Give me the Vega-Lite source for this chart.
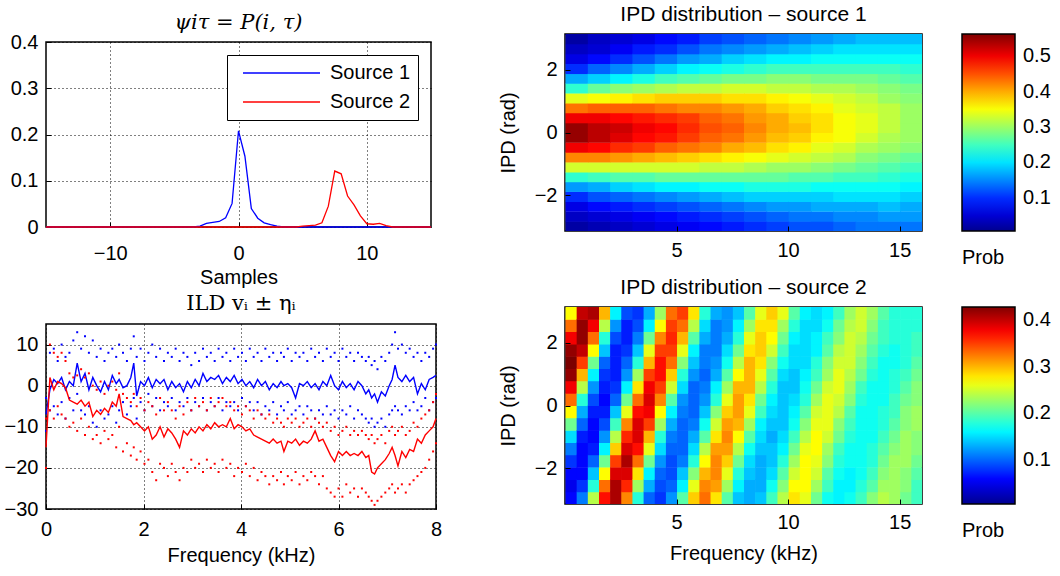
{
"$schema": "https://vega.github.io/schema/vega-lite/v6.json",
"background": "white",
"padding": {"left": 3, "top": 3, "right": 0, "bottom": 0},
"config": {
  "font": "Liberation Sans",
  "view": {"stroke": "black", "strokeWidth": 1.5},
  "axis": {"labelFontSize": 20, "labelColor": "black", "titleFontSize": 20, "titleFontWeight": "normal", "titleColor": "black", "domain": false, "tickColor": "black", "tickSize": -5, "tickWidth": 1, "labelPadding": 13, "titlePadding": 4, "labelFlush": false, "gridColor": "black", "gridDash": [1, 3], "gridOpacity": 1, "gridWidth": 1},
  "legend": {"labelColor": "black", "titleColor": "black", "labelFontSize": 20, "titleFontSize": 20, "titleFontWeight": "normal"},
  "title": {"fontWeight": "normal", "color": "black"}
},
"align": "none",
"resolve": {"scale": {"color": "independent"}, "legend": {"color": "independent"}},
"spacing": 54,
"datasets": {
"psi": [
{"t":-15,"p":0,"s":"Source 1"},{"t":-3.5,"p":0,"s":"Source 1"},{"t":-3,"p":0.002,"s":"Source 1"},{"t":-2.5,"p":0.008,"s":"Source 1"},{"t":-2,"p":0.01,"s":"Source 1"},{"t":-1.5,"p":0.012,"s":"Source 1"},{"t":-1,"p":0.02,"s":"Source 1"},{"t":-0.5,"p":0.051,"s":"Source 1"},{"t":0,"p":0.208,"s":"Source 1"},{"t":0.5,"p":0.153,"s":"Source 1"},{"t":1,"p":0.04,"s":"Source 1"},{"t":1.5,"p":0.019,"s":"Source 1"},{"t":2,"p":0.009,"s":"Source 1"},{"t":2.5,"p":0.005,"s":"Source 1"},{"t":3,"p":0.002,"s":"Source 1"},{"t":3.5,"p":0,"s":"Source 1"},{"t":15,"p":0,"s":"Source 1"},
{"t":-15,"p":0,"s":"Source 2"},{"t":4.5,"p":0,"s":"Source 2"},{"t":5,"p":0.002,"s":"Source 2"},{"t":5.5,"p":0.003,"s":"Source 2"},{"t":6,"p":0.004,"s":"Source 2"},{"t":6.5,"p":0.009,"s":"Source 2"},{"t":7,"p":0.045,"s":"Source 2"},{"t":7.5,"p":0.121,"s":"Source 2"},{"t":8,"p":0.115,"s":"Source 2"},{"t":8.5,"p":0.067,"s":"Source 2"},{"t":9,"p":0.048,"s":"Source 2"},{"t":9.5,"p":0.024,"s":"Source 2"},{"t":10,"p":0.007,"s":"Source 2"},{"t":10.5,"p":0.006,"s":"Source 2"},{"t":11,"p":0.008,"s":"Source 2"},{"t":11.5,"p":0.003,"s":"Source 2"},{"t":12,"p":0,"s":"Source 2"},{"t":15,"p":0,"s":"Source 2"}
],
"ild": [
{"f":0,"b":-7,"bu":-3,"bl":-11,"r":-15,"ru":-8,"rl":-20},
{"f":0.08,"b":-1,"bu":8,"bl":-6,"r":2,"ru":10,"rl":-6},
{"f":0.16,"b":1.5,"bu":9,"bl":-5,"r":-1,"ru":8,"rl":-8},
{"f":0.24,"b":0.5,"bu":6,"bl":-7,"r":1,"ru":7,"rl":-5},
{"f":0.32,"b":2,"bu":10,"bl":-4,"r":0.5,"ru":8,"rl":-7},
{"f":0.4,"b":-1,"bu":7,"bl":-8,"r":-0.5,"ru":6,"rl":-8},
{"f":0.48,"b":1,"bu":8,"bl":-3,"r":-3.5,"ru":3,"rl":-10},
{"f":0.56,"b":0,"bu":11,"bl":-6,"r":-4,"ru":2,"rl":-9},
{"f":0.64,"b":5.5,"bu":13,"bl":-2,"r":-4.5,"ru":2.5,"rl":-11},
{"f":0.72,"b":1,"bu":9,"bl":-6,"r":-3.5,"ru":4,"rl":-8},
{"f":0.8,"b":3,"bu":12,"bl":-7,"r":-5,"ru":2,"rl":-12},
{"f":0.88,"b":-1,"bu":8,"bl":-5,"r":-4,"ru":3,"rl":-10},
{"f":0.96,"b":2,"bu":11,"bl":-9,"r":-7.5,"ru":0,"rl":-13},
{"f":1.04,"b":0,"bu":7,"bl":-10,"r":-6,"ru":-1,"rl":-12},
{"f":1.12,"b":-1.5,"bu":9,"bl":-6,"r":-7,"ru":1,"rl":-14},
{"f":1.2,"b":1,"bu":6,"bl":-8,"r":-5.5,"ru":-2,"rl":-11},
{"f":1.28,"b":-1,"bu":8,"bl":-7,"r":-6.5,"ru":0,"rl":-13},
{"f":1.36,"b":2.5,"bu":9,"bl":-5,"r":-4,"ru":1,"rl":-12},
{"f":1.44,"b":0.5,"bu":7,"bl":-9,"r":-5,"ru":-1,"rl":-15},
{"f":1.5,"b":1.5,"bu":10,"bl":-6,"r":-2,"ru":3,"rl":-10},
{"f":1.58,"b":-0.5,"bu":8,"bl":-4,"r":-7.5,"ru":-2,"rl":-16},
{"f":1.66,"b":0,"bu":6,"bl":-7,"r":-8,"ru":-3,"rl":-14},
{"f":1.74,"b":2,"bu":9,"bl":-5,"r":-8.5,"ru":-4,"rl":-17},
{"f":1.8,"b":5.5,"bu":12,"bl":-3,"r":-9.5,"ru":-2,"rl":-15},
{"f":1.86,"b":-2.5,"bu":7,"bl":-8,"r":-9,"ru":-5,"rl":-18},
{"f":1.94,"b":1,"bu":9,"bl":-4,"r":-10,"ru":-3,"rl":-16},
{"f":2.02,"b":0,"bu":6,"bl":-6,"r":-11,"ru":-6,"rl":-19},
{"f":2.1,"b":2,"bu":8,"bl":-2,"r":-10,"ru":-4,"rl":-18},
{"f":2.18,"b":-0.5,"bu":10,"bl":-5,"r":-13,"ru":-5,"rl":-21},
{"f":2.26,"b":1.5,"bu":7,"bl":-3,"r":-12,"ru":-7,"rl":-23},
{"f":2.34,"b":0.5,"bu":9,"bl":-6,"r":-10,"ru":-3,"rl":-19},
{"f":2.42,"b":1.5,"bu":6,"bl":-4,"r":-12.5,"ru":-6,"rl":-20},
{"f":2.5,"b":-1,"bu":8,"bl":-5,"r":-10.5,"ru":-4,"rl":-22},
{"f":2.58,"b":1,"bu":7,"bl":-3,"r":-11.5,"ru":-6,"rl":-19},
{"f":2.66,"b":-0.5,"bu":9,"bl":-6,"r":-13,"ru":-8,"rl":-21},
{"f":2.74,"b":0.5,"bu":6,"bl":-4,"r":-15,"ru":-5,"rl":-23},
{"f":2.82,"b":-1.5,"bu":8,"bl":-5,"r":-11,"ru":-7,"rl":-20},
{"f":2.9,"b":1,"bu":7,"bl":-3,"r":-12,"ru":-4,"rl":-21},
{"f":2.98,"b":-0.5,"bu":5,"bl":-6,"r":-10.5,"ru":-6,"rl":-18},
{"f":3.06,"b":1.5,"bu":8,"bl":-4,"r":-11.5,"ru":-3,"rl":-20},
{"f":3.14,"b":0,"bu":6,"bl":-5,"r":-10,"ru":-5,"rl":-19},
{"f":3.22,"b":3,"bu":9,"bl":-3,"r":-11,"ru":-4,"rl":-21},
{"f":3.3,"b":1,"bu":7,"bl":-6,"r":-9.5,"ru":-6,"rl":-18},
{"f":3.38,"b":2,"bu":8,"bl":-4,"r":-10.5,"ru":-3,"rl":-20},
{"f":3.46,"b":1.5,"bu":6,"bl":-5,"r":-9,"ru":-5,"rl":-19},
{"f":3.54,"b":2.5,"bu":9,"bl":-3,"r":-10,"ru":-4,"rl":-21},
{"f":3.62,"b":0.5,"bu":7,"bl":-6,"r":-9.5,"ru":-3,"rl":-18},
{"f":3.7,"b":2,"bu":8,"bl":-4,"r":-10,"ru":-5,"rl":-20},
{"f":3.78,"b":1,"bu":6,"bl":-5,"r":-8,"ru":-4,"rl":-19},
{"f":3.86,"b":2.5,"bu":9,"bl":-4,"r":-10.5,"ru":-6,"rl":-22},
{"f":3.94,"b":0.5,"bu":7,"bl":-6,"r":-9.5,"ru":-5,"rl":-20},
{"f":4.02,"b":1.5,"bu":8,"bl":-3,"r":-10,"ru":-7,"rl":-21},
{"f":4.1,"b":0,"bu":6,"bl":-5,"r":-11,"ru":-5,"rl":-19},
{"f":4.18,"b":1,"bu":9,"bl":-4,"r":-10.5,"ru":-6,"rl":-22},
{"f":4.26,"b":-0.5,"bu":7,"bl":-6,"r":-12,"ru":-8,"rl":-20},
{"f":4.34,"b":1.5,"bu":8,"bl":-4,"r":-12.5,"ru":-6,"rl":-23},
{"f":4.42,"b":0,"bu":6,"bl":-7,"r":-13,"ru":-7,"rl":-21},
{"f":4.5,"b":1,"bu":9,"bl":-5,"r":-13.5,"ru":-8,"rl":-22},
{"f":4.58,"b":-1,"bu":7,"bl":-6,"r":-14,"ru":-7,"rl":-24},
{"f":4.66,"b":0.5,"bu":8,"bl":-4,"r":-13,"ru":-9,"rl":-22},
{"f":4.74,"b":-0.5,"bu":6,"bl":-7,"r":-14,"ru":-8,"rl":-23},
{"f":4.82,"b":1,"bu":8,"bl":-5,"r":-13.5,"ru":-9,"rl":-21},
{"f":4.88,"b":0,"bu":7,"bl":-6,"r":-16,"ru":-10,"rl":-24},
{"f":4.96,"b":0.5,"bu":9,"bl":-4,"r":-13.5,"ru":-8,"rl":-22},
{"f":5.04,"b":-0.5,"bu":6,"bl":-7,"r":-14,"ru":-9,"rl":-23},
{"f":5.12,"b":-3,"bu":8,"bl":-6,"r":-13,"ru":-8,"rl":-21},
{"f":5.2,"b":0.5,"bu":7,"bl":-5,"r":-14.5,"ru":-10,"rl":-24},
{"f":5.28,"b":0,"bu":8,"bl":-7,"r":-13.5,"ru":-9,"rl":-22},
{"f":5.36,"b":1,"bu":6,"bl":-5,"r":-14,"ru":-8,"rl":-23},
{"f":5.44,"b":-0.5,"bu":9,"bl":-6,"r":-13,"ru":-10,"rl":-21},
{"f":5.52,"b":0.5,"bu":7,"bl":-8,"r":-11,"ru":-8,"rl":-22},
{"f":5.6,"b":-1,"bu":8,"bl":-6,"r":-13.5,"ru":-9,"rl":-24},
{"f":5.68,"b":1,"bu":6,"bl":-7,"r":-13,"ru":-10,"rl":-22},
{"f":5.76,"b":0,"bu":9,"bl":-5,"r":-15,"ru":-9,"rl":-25},
{"f":5.84,"b":2.5,"bu":7,"bl":-7,"r":-17,"ru":-11,"rl":-26},
{"f":5.92,"b":0,"bu":8,"bl":-6,"r":-18.5,"ru":-10,"rl":-27},
{"f":6,"b":-1,"bu":6,"bl":-8,"r":-16,"ru":-12,"rl":-25},
{"f":6.08,"b":1,"bu":9,"bl":-6,"r":-17,"ru":-11,"rl":-27},
{"f":6.16,"b":-0.5,"bu":7,"bl":-7,"r":-16,"ru":-10,"rl":-24},
{"f":6.24,"b":0.5,"bu":8,"bl":-5,"r":-17,"ru":-12,"rl":-26},
{"f":6.32,"b":-1,"bu":6,"bl":-8,"r":-16.5,"ru":-11,"rl":-25},
{"f":6.4,"b":1,"bu":8,"bl":-6,"r":-17,"ru":-12,"rl":-27},
{"f":6.48,"b":0,"bu":7,"bl":-7,"r":-16,"ru":-11,"rl":-25},
{"f":6.56,"b":-2,"bu":6,"bl":-8,"r":-17.5,"ru":-12,"rl":-26},
{"f":6.62,"b":-1,"bu":7,"bl":-9,"r":-17,"ru":-13,"rl":-27},
{"f":6.68,"b":-3,"bu":5,"bl":-8,"r":-21,"ru":-12,"rl":-28},
{"f":6.74,"b":-2,"bu":6,"bl":-10,"r":-21.5,"ru":-14,"rl":-29},
{"f":6.8,"b":-4,"bu":4,"bl":-9,"r":-20,"ru":-13,"rl":-28},
{"f":6.88,"b":-1.5,"bu":7,"bl":-8,"r":-19,"ru":-12,"rl":-27},
{"f":6.96,"b":-2.5,"bu":6,"bl":-10,"r":-18,"ru":-14,"rl":-26},
{"f":7.04,"b":0,"bu":8,"bl":-7,"r":-16.5,"ru":-11,"rl":-25},
{"f":7.1,"b":1.5,"bu":10,"bl":-6,"r":-15,"ru":-10,"rl":-24},
{"f":7.16,"b":5,"bu":13,"bl":-5,"r":-17,"ru":-12,"rl":-26},
{"f":7.22,"b":2,"bu":9,"bl":-6,"r":-19.5,"ru":-11,"rl":-25},
{"f":7.3,"b":1,"bu":10,"bl":-7,"r":-16,"ru":-10,"rl":-24},
{"f":7.38,"b":2.5,"bu":8,"bl":-5,"r":-17.5,"ru":-12,"rl":-26},
{"f":7.46,"b":1,"bu":9,"bl":-6,"r":-15.5,"ru":-11,"rl":-24},
{"f":7.54,"b":2,"bu":7,"bl":-4,"r":-16,"ru":-9,"rl":-23},
{"f":7.62,"b":-2,"bu":8,"bl":-6,"r":-13,"ru":-10,"rl":-22},
{"f":7.7,"b":0.5,"bu":6,"bl":-5,"r":-14,"ru":-8,"rl":-21},
{"f":7.78,"b":-1,"bu":8,"bl":-3,"r":-12,"ru":-7,"rl":-20},
{"f":7.86,"b":1.5,"bu":7,"bl":-6,"r":-11,"ru":-6,"rl":-18},
{"f":7.94,"b":2,"bu":9,"bl":-4,"r":-10,"ru":-4,"rl":-16},
{"f":8,"b":2.5,"bu":10,"bl":-3,"r":-8,"ru":-2,"rl":-14}
],
"s1": [
{"f":0,"p":-3.14,"v":0.02},{"f":0,"p":-2.83,"v":0.04},{"f":0,"p":-2.51,"v":0.06},{"f":0,"p":-2.2,"v":0.10},{"f":0,"p":-1.88,"v":0.16},{"f":0,"p":-1.57,"v":0.24},{"f":0,"p":-1.26,"v":0.33},{"f":0,"p":-0.94,"v":0.42},{"f":0,"p":-0.63,"v":0.50},{"f":0,"p":-0.31,"v":0.55},{"f":0,"p":0,"v":0.55},{"f":0,"p":0.31,"v":0.50},{"f":0,"p":0.63,"v":0.43},{"f":0,"p":0.94,"v":0.34},{"f":0,"p":1.26,"v":0.24},{"f":0,"p":1.57,"v":0.17},{"f":0,"p":1.88,"v":0.10},{"f":0,"p":2.2,"v":0.06},{"f":0,"p":2.51,"v":0.04},{"f":0,"p":2.83,"v":0.02},
{"f":1,"p":-3.14,"v":0.03},{"f":1,"p":-2.83,"v":0.05},{"f":1,"p":-2.51,"v":0.08},{"f":1,"p":-2.2,"v":0.12},{"f":1,"p":-1.88,"v":0.17},{"f":1,"p":-1.57,"v":0.25},{"f":1,"p":-1.26,"v":0.33},{"f":1,"p":-0.94,"v":0.42},{"f":1,"p":-0.63,"v":0.49},{"f":1,"p":-0.31,"v":0.53},{"f":1,"p":0,"v":0.53},{"f":1,"p":0.31,"v":0.50},{"f":1,"p":0.63,"v":0.44},{"f":1,"p":0.94,"v":0.35},{"f":1,"p":1.26,"v":0.27},{"f":1,"p":1.57,"v":0.19},{"f":1,"p":1.88,"v":0.13},{"f":1,"p":2.2,"v":0.08},{"f":1,"p":2.51,"v":0.05},{"f":1,"p":2.83,"v":0.04},
{"f":2,"p":-3.14,"v":0.04},{"f":2,"p":-2.83,"v":0.06},{"f":2,"p":-2.51,"v":0.09},{"f":2,"p":-2.2,"v":0.13},{"f":2,"p":-1.88,"v":0.19},{"f":2,"p":-1.57,"v":0.26},{"f":2,"p":-1.26,"v":0.33},{"f":2,"p":-0.94,"v":0.41},{"f":2,"p":-0.63,"v":0.47},{"f":2,"p":-0.31,"v":0.51},{"f":2,"p":0,"v":0.52},{"f":2,"p":0.31,"v":0.49},{"f":2,"p":0.63,"v":0.44},{"f":2,"p":0.94,"v":0.36},{"f":2,"p":1.26,"v":0.29},{"f":2,"p":1.57,"v":0.21},{"f":2,"p":1.88,"v":0.15},{"f":2,"p":2.2,"v":0.10},{"f":2,"p":2.51,"v":0.07},{"f":2,"p":2.83,"v":0.05},
{"f":3,"p":-3.14,"v":0.05},{"f":3,"p":-2.83,"v":0.07},{"f":3,"p":-2.51,"v":0.10},{"f":3,"p":-2.2,"v":0.14},{"f":3,"p":-1.88,"v":0.20},{"f":3,"p":-1.57,"v":0.26},{"f":3,"p":-1.26,"v":0.33},{"f":3,"p":-0.94,"v":0.40},{"f":3,"p":-0.63,"v":0.46},{"f":3,"p":-0.31,"v":0.49},{"f":3,"p":0,"v":0.50},{"f":3,"p":0.31,"v":0.48},{"f":3,"p":0.63,"v":0.44},{"f":3,"p":0.94,"v":0.37},{"f":3,"p":1.26,"v":0.30},{"f":3,"p":1.57,"v":0.23},{"f":3,"p":1.88,"v":0.17},{"f":3,"p":2.2,"v":0.12},{"f":3,"p":2.51,"v":0.09},{"f":3,"p":2.83,"v":0.06},
{"f":4,"p":-3.14,"v":0.06},{"f":4,"p":-2.83,"v":0.08},{"f":4,"p":-2.51,"v":0.11},{"f":4,"p":-2.2,"v":0.15},{"f":4,"p":-1.88,"v":0.21},{"f":4,"p":-1.57,"v":0.27},{"f":4,"p":-1.26,"v":0.33},{"f":4,"p":-0.94,"v":0.39},{"f":4,"p":-0.63,"v":0.44},{"f":4,"p":-0.31,"v":0.48},{"f":4,"p":0,"v":0.49},{"f":4,"p":0.31,"v":0.47},{"f":4,"p":0.63,"v":0.43},{"f":4,"p":0.94,"v":0.38},{"f":4,"p":1.26,"v":0.31},{"f":4,"p":1.57,"v":0.25},{"f":4,"p":1.88,"v":0.19},{"f":4,"p":2.2,"v":0.14},{"f":4,"p":2.51,"v":0.10},{"f":4,"p":2.83,"v":0.08},
{"f":5,"p":-3.14,"v":0.07},{"f":5,"p":-2.83,"v":0.09},{"f":5,"p":-2.51,"v":0.12},{"f":5,"p":-2.2,"v":0.16},{"f":5,"p":-1.88,"v":0.21},{"f":5,"p":-1.57,"v":0.27},{"f":5,"p":-1.26,"v":0.33},{"f":5,"p":-0.94,"v":0.38},{"f":5,"p":-0.63,"v":0.43},{"f":5,"p":-0.31,"v":0.46},{"f":5,"p":0,"v":0.47},{"f":5,"p":0.31,"v":0.46},{"f":5,"p":0.63,"v":0.42},{"f":5,"p":0.94,"v":0.38},{"f":5,"p":1.26,"v":0.32},{"f":5,"p":1.57,"v":0.26},{"f":5,"p":1.88,"v":0.21},{"f":5,"p":2.2,"v":0.16},{"f":5,"p":2.51,"v":0.12},{"f":5,"p":2.83,"v":0.09},
{"f":6,"p":-3.14,"v":0.08},{"f":6,"p":-2.83,"v":0.10},{"f":6,"p":-2.51,"v":0.13},{"f":6,"p":-2.2,"v":0.17},{"f":6,"p":-1.88,"v":0.22},{"f":6,"p":-1.57,"v":0.27},{"f":6,"p":-1.26,"v":0.32},{"f":6,"p":-0.94,"v":0.37},{"f":6,"p":-0.63,"v":0.42},{"f":6,"p":-0.31,"v":0.44},{"f":6,"p":0,"v":0.45},{"f":6,"p":0.31,"v":0.44},{"f":6,"p":0.63,"v":0.42},{"f":6,"p":0.94,"v":0.38},{"f":6,"p":1.26,"v":0.32},{"f":6,"p":1.57,"v":0.27},{"f":6,"p":1.88,"v":0.22},{"f":6,"p":2.2,"v":0.17},{"f":6,"p":2.51,"v":0.14},{"f":6,"p":2.83,"v":0.11},
{"f":7,"p":-3.14,"v":0.09},{"f":7,"p":-2.83,"v":0.11},{"f":7,"p":-2.51,"v":0.14},{"f":7,"p":-2.2,"v":0.18},{"f":7,"p":-1.88,"v":0.22},{"f":7,"p":-1.57,"v":0.27},{"f":7,"p":-1.26,"v":0.32},{"f":7,"p":-0.94,"v":0.36},{"f":7,"p":-0.63,"v":0.40},{"f":7,"p":-0.31,"v":0.43},{"f":7,"p":0,"v":0.44},{"f":7,"p":0.31,"v":0.43},{"f":7,"p":0.63,"v":0.41},{"f":7,"p":0.94,"v":0.37},{"f":7,"p":1.26,"v":0.33},{"f":7,"p":1.57,"v":0.28},{"f":7,"p":1.88,"v":0.23},{"f":7,"p":2.2,"v":0.19},{"f":7,"p":2.51,"v":0.15},{"f":7,"p":2.83,"v":0.12},
{"f":8,"p":-3.14,"v":0.10},{"f":8,"p":-2.83,"v":0.12},{"f":8,"p":-2.51,"v":0.15},{"f":8,"p":-2.2,"v":0.19},{"f":8,"p":-1.88,"v":0.23},{"f":8,"p":-1.57,"v":0.27},{"f":8,"p":-1.26,"v":0.31},{"f":8,"p":-0.94,"v":0.35},{"f":8,"p":-0.63,"v":0.39},{"f":8,"p":-0.31,"v":0.41},{"f":8,"p":0,"v":0.42},{"f":8,"p":0.31,"v":0.41},{"f":8,"p":0.63,"v":0.40},{"f":8,"p":0.94,"v":0.37},{"f":8,"p":1.26,"v":0.33},{"f":8,"p":1.57,"v":0.28},{"f":8,"p":1.88,"v":0.24},{"f":8,"p":2.2,"v":0.20},{"f":8,"p":2.51,"v":0.16},{"f":8,"p":2.83,"v":0.13},
{"f":9,"p":-3.14,"v":0.11},{"f":9,"p":-2.83,"v":0.13},{"f":9,"p":-2.51,"v":0.16},{"f":9,"p":-2.2,"v":0.19},{"f":9,"p":-1.88,"v":0.23},{"f":9,"p":-1.57,"v":0.27},{"f":9,"p":-1.26,"v":0.30},{"f":9,"p":-0.94,"v":0.34},{"f":9,"p":-0.63,"v":0.37},{"f":9,"p":-0.31,"v":0.39},{"f":9,"p":0,"v":0.40},{"f":9,"p":0.31,"v":0.40},{"f":9,"p":0.63,"v":0.38},{"f":9,"p":0.94,"v":0.36},{"f":9,"p":1.26,"v":0.32},{"f":9,"p":1.57,"v":0.29},{"f":9,"p":1.88,"v":0.25},{"f":9,"p":2.2,"v":0.21},{"f":9,"p":2.51,"v":0.17},{"f":9,"p":2.83,"v":0.14},
{"f":10,"p":-3.14,"v":0.12},{"f":10,"p":-2.83,"v":0.14},{"f":10,"p":-2.51,"v":0.16},{"f":10,"p":-2.2,"v":0.19},{"f":10,"p":-1.88,"v":0.23},{"f":10,"p":-1.57,"v":0.26},{"f":10,"p":-1.26,"v":0.30},{"f":10,"p":-0.94,"v":0.33},{"f":10,"p":-0.63,"v":0.36},{"f":10,"p":-0.31,"v":0.38},{"f":10,"p":0,"v":0.39},{"f":10,"p":0.31,"v":0.38},{"f":10,"p":0.63,"v":0.37},{"f":10,"p":0.94,"v":0.35},{"f":10,"p":1.26,"v":0.32},{"f":10,"p":1.57,"v":0.29},{"f":10,"p":1.88,"v":0.25},{"f":10,"p":2.2,"v":0.21},{"f":10,"p":2.51,"v":0.18},{"f":10,"p":2.83,"v":0.15},
{"f":11,"p":-3.14,"v":0.12},{"f":11,"p":-2.83,"v":0.14},{"f":11,"p":-2.51,"v":0.17},{"f":11,"p":-2.2,"v":0.19},{"f":11,"p":-1.88,"v":0.22},{"f":11,"p":-1.57,"v":0.26},{"f":11,"p":-1.26,"v":0.29},{"f":11,"p":-0.94,"v":0.32},{"f":11,"p":-0.63,"v":0.34},{"f":11,"p":-0.31,"v":0.36},{"f":11,"p":0,"v":0.37},{"f":11,"p":0.31,"v":0.37},{"f":11,"p":0.63,"v":0.36},{"f":11,"p":0.94,"v":0.34},{"f":11,"p":1.26,"v":0.31},{"f":11,"p":1.57,"v":0.28},{"f":11,"p":1.88,"v":0.25},{"f":11,"p":2.2,"v":0.22},{"f":11,"p":2.51,"v":0.19},{"f":11,"p":2.83,"v":0.16},
{"f":12,"p":-3.14,"v":0.13},{"f":12,"p":-2.83,"v":0.15},{"f":12,"p":-2.51,"v":0.17},{"f":12,"p":-2.2,"v":0.20},{"f":12,"p":-1.88,"v":0.22},{"f":12,"p":-1.57,"v":0.25},{"f":12,"p":-1.26,"v":0.28},{"f":12,"p":-0.94,"v":0.31},{"f":12,"p":-0.63,"v":0.33},{"f":12,"p":-0.31,"v":0.35},{"f":12,"p":0,"v":0.35},{"f":12,"p":0.31,"v":0.35},{"f":12,"p":0.63,"v":0.34},{"f":12,"p":0.94,"v":0.33},{"f":12,"p":1.26,"v":0.31},{"f":12,"p":1.57,"v":0.28},{"f":12,"p":1.88,"v":0.25},{"f":12,"p":2.2,"v":0.22},{"f":12,"p":2.51,"v":0.20},{"f":12,"p":2.83,"v":0.17},
{"f":13,"p":-3.14,"v":0.14},{"f":13,"p":-2.83,"v":0.15},{"f":13,"p":-2.51,"v":0.17},{"f":13,"p":-2.2,"v":0.20},{"f":13,"p":-1.88,"v":0.22},{"f":13,"p":-1.57,"v":0.25},{"f":13,"p":-1.26,"v":0.27},{"f":13,"p":-0.94,"v":0.29},{"f":13,"p":-0.63,"v":0.31},{"f":13,"p":-0.31,"v":0.33},{"f":13,"p":0,"v":0.34},{"f":13,"p":0.31,"v":0.34},{"f":13,"p":0.63,"v":0.33},{"f":13,"p":0.94,"v":0.32},{"f":13,"p":1.26,"v":0.30},{"f":13,"p":1.57,"v":0.28},{"f":13,"p":1.88,"v":0.25},{"f":13,"p":2.2,"v":0.22},{"f":13,"p":2.51,"v":0.20},{"f":13,"p":2.83,"v":0.18},
{"f":14,"p":-3.14,"v":0.14},{"f":14,"p":-2.83,"v":0.16},{"f":14,"p":-2.51,"v":0.18},{"f":14,"p":-2.2,"v":0.20},{"f":14,"p":-1.88,"v":0.22},{"f":14,"p":-1.57,"v":0.24},{"f":14,"p":-1.26,"v":0.26},{"f":14,"p":-0.94,"v":0.28},{"f":14,"p":-0.63,"v":0.30},{"f":14,"p":-0.31,"v":0.31},{"f":14,"p":0,"v":0.32},{"f":14,"p":0.31,"v":0.32},{"f":14,"p":0.63,"v":0.32},{"f":14,"p":0.94,"v":0.30},{"f":14,"p":1.26,"v":0.29},{"f":14,"p":1.57,"v":0.27},{"f":14,"p":1.88,"v":0.25},{"f":14,"p":2.2,"v":0.22},{"f":14,"p":2.51,"v":0.20},{"f":14,"p":2.83,"v":0.18},
{"f":15,"p":-3.14,"v":0.14},{"f":15,"p":-2.83,"v":0.16},{"f":15,"p":-2.51,"v":0.17},{"f":15,"p":-2.2,"v":0.19},{"f":15,"p":-1.88,"v":0.21},{"f":15,"p":-1.57,"v":0.23},{"f":15,"p":-1.26,"v":0.25},{"f":15,"p":-0.94,"v":0.27},{"f":15,"p":-0.63,"v":0.29},{"f":15,"p":-0.31,"v":0.30},{"f":15,"p":0,"v":0.30},{"f":15,"p":0.31,"v":0.30},{"f":15,"p":0.63,"v":0.30},{"f":15,"p":0.94,"v":0.29},{"f":15,"p":1.26,"v":0.28},{"f":15,"p":1.57,"v":0.26},{"f":15,"p":1.88,"v":0.24},{"f":15,"p":2.2,"v":0.22},{"f":15,"p":2.51,"v":0.20},{"f":15,"p":2.83,"v":0.18}
],
"s2": [
{"f":0,"p":-3.14,"v":0.06},{"f":0,"p":-2.75,"v":0.05},{"f":0,"p":-2.36,"v":0.06},{"f":0,"p":-1.96,"v":0.08},{"f":0,"p":-1.57,"v":0.11},{"f":0,"p":-1.18,"v":0.15},{"f":0,"p":-0.79,"v":0.21},{"f":0,"p":-0.39,"v":0.27},{"f":0,"p":0,"v":0.33},{"f":0,"p":0.39,"v":0.38},{"f":0,"p":0.79,"v":0.42},{"f":0,"p":1.18,"v":0.43},{"f":0,"p":1.57,"v":0.42},{"f":0,"p":1.96,"v":0.38},{"f":0,"p":2.36,"v":0.33},{"f":0,"p":2.75,"v":0.27},
{"f":0.5,"p":-3.14,"v":0.11},{"f":0.5,"p":-2.75,"v":0.08},{"f":0.5,"p":-2.36,"v":0.06},{"f":0.5,"p":-1.96,"v":0.06},{"f":0.5,"p":-1.57,"v":0.06},{"f":0.5,"p":-1.18,"v":0.07},{"f":0.5,"p":-0.79,"v":0.10},{"f":0.5,"p":-0.39,"v":0.13},{"f":0.5,"p":0,"v":0.18},{"f":0.5,"p":0.39,"v":0.24},{"f":0.5,"p":0.79,"v":0.30},{"f":0.5,"p":1.18,"v":0.35},{"f":0.5,"p":1.57,"v":0.40},{"f":0.5,"p":1.96,"v":0.42},{"f":0.5,"p":2.36,"v":0.42},{"f":0.5,"p":2.75,"v":0.40},
{"f":1,"p":-3.14,"v":0.24},{"f":1,"p":-2.75,"v":0.18},{"f":1,"p":-2.36,"v":0.14},{"f":1,"p":-1.96,"v":0.10},{"f":1,"p":-1.57,"v":0.07},{"f":1,"p":-1.18,"v":0.06},{"f":1,"p":-0.79,"v":0.06},{"f":1,"p":-0.39,"v":0.07},{"f":1,"p":0,"v":0.09},{"f":1,"p":0.39,"v":0.12},{"f":1,"p":0.79,"v":0.16},{"f":1,"p":1.18,"v":0.21},{"f":1,"p":1.57,"v":0.27},{"f":1,"p":1.96,"v":0.33},{"f":1,"p":2.36,"v":0.38},{"f":1,"p":2.75,"v":0.41},
{"f":1.5,"p":-3.14,"v":0.37},{"f":1.5,"p":-2.75,"v":0.33},{"f":1.5,"p":-2.36,"v":0.27},{"f":1.5,"p":-1.96,"v":0.21},{"f":1.5,"p":-1.57,"v":0.16},{"f":1.5,"p":-1.18,"v":0.12},{"f":1.5,"p":-0.79,"v":0.09},{"f":1.5,"p":-0.39,"v":0.07},{"f":1.5,"p":0,"v":0.06},{"f":1.5,"p":0.39,"v":0.07},{"f":1.5,"p":0.79,"v":0.08},{"f":1.5,"p":1.18,"v":0.10},{"f":1.5,"p":1.57,"v":0.14},{"f":1.5,"p":1.96,"v":0.18},{"f":1.5,"p":2.36,"v":0.24},{"f":1.5,"p":2.75,"v":0.30},
{"f":2,"p":-3.14,"v":0.41},{"f":2,"p":-2.75,"v":0.41},{"f":2,"p":-2.36,"v":0.39},{"f":2,"p":-1.96,"v":0.35},{"f":2,"p":-1.57,"v":0.29},{"f":2,"p":-1.18,"v":0.24},{"f":2,"p":-0.79,"v":0.19},{"f":2,"p":-0.39,"v":0.14},{"f":2,"p":0,"v":0.10},{"f":2,"p":0.39,"v":0.08},{"f":2,"p":0.79,"v":0.07},{"f":2,"p":1.18,"v":0.07},{"f":2,"p":1.57,"v":0.07},{"f":2,"p":1.96,"v":0.09},{"f":2,"p":2.36,"v":0.12},{"f":2,"p":2.75,"v":0.16},
{"f":2.5,"p":-3.14,"v":0.32},{"f":2.5,"p":-2.75,"v":0.36},{"f":2.5,"p":-2.36,"v":0.39},{"f":2.5,"p":-1.96,"v":0.41},{"f":2.5,"p":-1.57,"v":0.39},{"f":2.5,"p":-1.18,"v":0.36},{"f":2.5,"p":-0.79,"v":0.32},{"f":2.5,"p":-0.39,"v":0.26},{"f":2.5,"p":0,"v":0.21},{"f":2.5,"p":0.39,"v":0.16},{"f":2.5,"p":0.79,"v":0.12},{"f":2.5,"p":1.18,"v":0.10},{"f":2.5,"p":1.57,"v":0.08},{"f":2.5,"p":1.96,"v":0.07},{"f":2.5,"p":2.36,"v":0.07},{"f":2.5,"p":2.75,"v":0.09},
{"f":3,"p":-3.14,"v":0.18},{"f":3,"p":-2.75,"v":0.23},{"f":3,"p":-2.36,"v":0.28},{"f":3,"p":-1.96,"v":0.33},{"f":3,"p":-1.57,"v":0.37},{"f":3,"p":-1.18,"v":0.39},{"f":3,"p":-0.79,"v":0.39},{"f":3,"p":-0.39,"v":0.37},{"f":3,"p":0,"v":0.33},{"f":3,"p":0.39,"v":0.28},{"f":3,"p":0.79,"v":0.23},{"f":3,"p":1.18,"v":0.18},{"f":3,"p":1.57,"v":0.14},{"f":3,"p":1.96,"v":0.11},{"f":3,"p":2.36,"v":0.09},{"f":3,"p":2.75,"v":0.08},
{"f":3.5,"p":-3.14,"v":0.10},{"f":3.5,"p":-2.75,"v":0.13},{"f":3.5,"p":-2.36,"v":0.16},{"f":3.5,"p":-1.96,"v":0.21},{"f":3.5,"p":-1.57,"v":0.26},{"f":3.5,"p":-1.18,"v":0.30},{"f":3.5,"p":-0.79,"v":0.35},{"f":3.5,"p":-0.39,"v":0.38},{"f":3.5,"p":0,"v":0.39},{"f":3.5,"p":0.39,"v":0.38},{"f":3.5,"p":0.79,"v":0.35},{"f":3.5,"p":1.18,"v":0.30},{"f":3.5,"p":1.57,"v":0.26},{"f":3.5,"p":1.96,"v":0.21},{"f":3.5,"p":2.36,"v":0.16},{"f":3.5,"p":2.75,"v":0.13},
{"f":4,"p":-3.14,"v":0.08},{"f":4,"p":-2.75,"v":0.09},{"f":4,"p":-2.36,"v":0.10},{"f":4,"p":-1.96,"v":0.12},{"f":4,"p":-1.57,"v":0.15},{"f":4,"p":-1.18,"v":0.18},{"f":4,"p":-0.79,"v":0.23},{"f":4,"p":-0.39,"v":0.27},{"f":4,"p":0,"v":0.32},{"f":4,"p":0.39,"v":0.35},{"f":4,"p":0.79,"v":0.37},{"f":4,"p":1.18,"v":0.37},{"f":4,"p":1.57,"v":0.35},{"f":4,"p":1.96,"v":0.32},{"f":4,"p":2.36,"v":0.27},{"f":4,"p":2.75,"v":0.23},
{"f":4.5,"p":-3.14,"v":0.12},{"f":4.5,"p":-2.75,"v":0.10},{"f":4.5,"p":-2.36,"v":0.09},{"f":4.5,"p":-1.96,"v":0.09},{"f":4.5,"p":-1.57,"v":0.10},{"f":4.5,"p":-1.18,"v":0.11},{"f":4.5,"p":-0.79,"v":0.13},{"f":4.5,"p":-0.39,"v":0.16},{"f":4.5,"p":0,"v":0.20},{"f":4.5,"p":0.39,"v":0.25},{"f":4.5,"p":0.79,"v":0.29},{"f":4.5,"p":1.18,"v":0.33},{"f":4.5,"p":1.57,"v":0.35},{"f":4.5,"p":1.96,"v":0.36},{"f":4.5,"p":2.36,"v":0.35},{"f":4.5,"p":2.75,"v":0.33},
{"f":5,"p":-3.14,"v":0.20},{"f":5,"p":-2.75,"v":0.16},{"f":5,"p":-2.36,"v":0.14},{"f":5,"p":-1.96,"v":0.11},{"f":5,"p":-1.57,"v":0.10},{"f":5,"p":-1.18,"v":0.10},{"f":5,"p":-0.79,"v":0.10},{"f":5,"p":-0.39,"v":0.11},{"f":5,"p":0,"v":0.12},{"f":5,"p":0.39,"v":0.15},{"f":5,"p":0.79,"v":0.18},{"f":5,"p":1.18,"v":0.22},{"f":5,"p":1.57,"v":0.26},{"f":5,"p":1.96,"v":0.30},{"f":5,"p":2.36,"v":0.33},{"f":5,"p":2.75,"v":0.35},
{"f":5.5,"p":-3.14,"v":0.29},{"f":5.5,"p":-2.75,"v":0.26},{"f":5.5,"p":-2.36,"v":0.22},{"f":5.5,"p":-1.96,"v":0.18},{"f":5.5,"p":-1.57,"v":0.15},{"f":5.5,"p":-1.18,"v":0.13},{"f":5.5,"p":-0.79,"v":0.11},{"f":5.5,"p":-0.39,"v":0.10},{"f":5.5,"p":0,"v":0.10},{"f":5.5,"p":0.39,"v":0.10},{"f":5.5,"p":0.79,"v":0.12},{"f":5.5,"p":1.18,"v":0.14},{"f":5.5,"p":1.57,"v":0.16},{"f":5.5,"p":1.96,"v":0.20},{"f":5.5,"p":2.36,"v":0.24},{"f":5.5,"p":2.75,"v":0.28},
{"f":6,"p":-3.14,"v":0.33},{"f":6,"p":-2.75,"v":0.32},{"f":6,"p":-2.36,"v":0.30},{"f":6,"p":-1.96,"v":0.27},{"f":6,"p":-1.57,"v":0.24},{"f":6,"p":-1.18,"v":0.20},{"f":6,"p":-0.79,"v":0.17},{"f":6,"p":-0.39,"v":0.14},{"f":6,"p":0,"v":0.12},{"f":6,"p":0.39,"v":0.11},{"f":6,"p":0.79,"v":0.10},{"f":6,"p":1.18,"v":0.11},{"f":6,"p":1.57,"v":0.11},{"f":6,"p":1.96,"v":0.13},{"f":6,"p":2.36,"v":0.15},{"f":6,"p":2.75,"v":0.18},
{"f":6.5,"p":-3.14,"v":0.28},{"f":6.5,"p":-2.75,"v":0.31},{"f":6.5,"p":-2.36,"v":0.32},{"f":6.5,"p":-1.96,"v":0.32},{"f":6.5,"p":-1.57,"v":0.31},{"f":6.5,"p":-1.18,"v":0.28},{"f":6.5,"p":-0.79,"v":0.25},{"f":6.5,"p":-0.39,"v":0.22},{"f":6.5,"p":0,"v":0.18},{"f":6.5,"p":0.39,"v":0.16},{"f":6.5,"p":0.79,"v":0.13},{"f":6.5,"p":1.18,"v":0.12},{"f":6.5,"p":1.57,"v":0.11},{"f":6.5,"p":1.96,"v":0.11},{"f":6.5,"p":2.36,"v":0.11},{"f":6.5,"p":2.75,"v":0.13},
{"f":7,"p":-3.14,"v":0.20},{"f":7,"p":-2.75,"v":0.23},{"f":7,"p":-2.36,"v":0.26},{"f":7,"p":-1.96,"v":0.29},{"f":7,"p":-1.57,"v":0.31},{"f":7,"p":-1.18,"v":0.32},{"f":7,"p":-0.79,"v":0.31},{"f":7,"p":-0.39,"v":0.29},{"f":7,"p":0,"v":0.26},{"f":7,"p":0.39,"v":0.23},{"f":7,"p":0.79,"v":0.20},{"f":7,"p":1.18,"v":0.17},{"f":7,"p":1.57,"v":0.15},{"f":7,"p":1.96,"v":0.13},{"f":7,"p":2.36,"v":0.12},{"f":7,"p":2.75,"v":0.12},
{"f":7.5,"p":-3.14,"v":0.14},{"f":7.5,"p":-2.75,"v":0.16},{"f":7.5,"p":-2.36,"v":0.18},{"f":7.5,"p":-1.96,"v":0.21},{"f":7.5,"p":-1.57,"v":0.24},{"f":7.5,"p":-1.18,"v":0.27},{"f":7.5,"p":-0.79,"v":0.30},{"f":7.5,"p":-0.39,"v":0.31},{"f":7.5,"p":0,"v":0.31},{"f":7.5,"p":0.39,"v":0.30},{"f":7.5,"p":0.79,"v":0.27},{"f":7.5,"p":1.18,"v":0.24},{"f":7.5,"p":1.57,"v":0.21},{"f":7.5,"p":1.96,"v":0.18},{"f":7.5,"p":2.36,"v":0.16},{"f":7.5,"p":2.75,"v":0.14},
{"f":8,"p":-3.14,"v":0.13},{"f":8,"p":-2.75,"v":0.13},{"f":8,"p":-2.36,"v":0.14},{"f":8,"p":-1.96,"v":0.15},{"f":8,"p":-1.57,"v":0.17},{"f":8,"p":-1.18,"v":0.20},{"f":8,"p":-0.79,"v":0.23},{"f":8,"p":-0.39,"v":0.26},{"f":8,"p":0,"v":0.28},{"f":8,"p":0.39,"v":0.30},{"f":8,"p":0.79,"v":0.30},{"f":8,"p":1.18,"v":0.30},{"f":8,"p":1.57,"v":0.28},{"f":8,"p":1.96,"v":0.26},{"f":8,"p":2.36,"v":0.23},{"f":8,"p":2.75,"v":0.20},
{"f":8.5,"p":-3.14,"v":0.14},{"f":8.5,"p":-2.75,"v":0.13},{"f":8.5,"p":-2.36,"v":0.13},{"f":8.5,"p":-1.96,"v":0.13},{"f":8.5,"p":-1.57,"v":0.14},{"f":8.5,"p":-1.18,"v":0.15},{"f":8.5,"p":-0.79,"v":0.16},{"f":8.5,"p":-0.39,"v":0.19},{"f":8.5,"p":0,"v":0.21},{"f":8.5,"p":0.39,"v":0.24},{"f":8.5,"p":0.79,"v":0.26},{"f":8.5,"p":1.18,"v":0.28},{"f":8.5,"p":1.57,"v":0.29},{"f":8.5,"p":1.96,"v":0.29},{"f":8.5,"p":2.36,"v":0.28},{"f":8.5,"p":2.75,"v":0.26},
{"f":9,"p":-3.14,"v":0.19},{"f":9,"p":-2.75,"v":0.17},{"f":9,"p":-2.36,"v":0.15},{"f":9,"p":-1.96,"v":0.14},{"f":9,"p":-1.57,"v":0.14},{"f":9,"p":-1.18,"v":0.13},{"f":9,"p":-0.79,"v":0.14},{"f":9,"p":-0.39,"v":0.15},{"f":9,"p":0,"v":0.16},{"f":9,"p":0.39,"v":0.18},{"f":9,"p":0.79,"v":0.20},{"f":9,"p":1.18,"v":0.22},{"f":9,"p":1.57,"v":0.25},{"f":9,"p":1.96,"v":0.27},{"f":9,"p":2.36,"v":0.28},{"f":9,"p":2.75,"v":0.29},
{"f":9.5,"p":-3.14,"v":0.24},{"f":9.5,"p":-2.75,"v":0.22},{"f":9.5,"p":-2.36,"v":0.20},{"f":9.5,"p":-1.96,"v":0.18},{"f":9.5,"p":-1.57,"v":0.16},{"f":9.5,"p":-1.18,"v":0.15},{"f":9.5,"p":-0.79,"v":0.14},{"f":9.5,"p":-0.39,"v":0.14},{"f":9.5,"p":0,"v":0.14},{"f":9.5,"p":0.39,"v":0.14},{"f":9.5,"p":0.79,"v":0.15},{"f":9.5,"p":1.18,"v":0.17},{"f":9.5,"p":1.57,"v":0.19},{"f":9.5,"p":1.96,"v":0.21},{"f":9.5,"p":2.36,"v":0.23},{"f":9.5,"p":2.75,"v":0.26},
{"f":10,"p":-3.14,"v":0.28},{"f":10,"p":-2.75,"v":0.27},{"f":10,"p":-2.36,"v":0.25},{"f":10,"p":-1.96,"v":0.23},{"f":10,"p":-1.57,"v":0.21},{"f":10,"p":-1.18,"v":0.19},{"f":10,"p":-0.79,"v":0.17},{"f":10,"p":-0.39,"v":0.16},{"f":10,"p":0,"v":0.15},{"f":10,"p":0.39,"v":0.14},{"f":10,"p":0.79,"v":0.14},{"f":10,"p":1.18,"v":0.15},{"f":10,"p":1.57,"v":0.15},{"f":10,"p":1.96,"v":0.16},{"f":10,"p":2.36,"v":0.18},{"f":10,"p":2.75,"v":0.20},
{"f":10.5,"p":-3.14,"v":0.26},{"f":10.5,"p":-2.75,"v":0.27},{"f":10.5,"p":-2.36,"v":0.27},{"f":10.5,"p":-1.96,"v":0.27},{"f":10.5,"p":-1.57,"v":0.26},{"f":10.5,"p":-1.18,"v":0.24},{"f":10.5,"p":-0.79,"v":0.22},{"f":10.5,"p":-0.39,"v":0.20},{"f":10.5,"p":0,"v":0.18},{"f":10.5,"p":0.39,"v":0.17},{"f":10.5,"p":0.79,"v":0.16},{"f":10.5,"p":1.18,"v":0.15},{"f":10.5,"p":1.57,"v":0.15},{"f":10.5,"p":1.96,"v":0.15},{"f":10.5,"p":2.36,"v":0.15},{"f":10.5,"p":2.75,"v":0.16},
{"f":11,"p":-3.14,"v":0.21},{"f":11,"p":-2.75,"v":0.23},{"f":11,"p":-2.36,"v":0.25},{"f":11,"p":-1.96,"v":0.26},{"f":11,"p":-1.57,"v":0.27},{"f":11,"p":-1.18,"v":0.27},{"f":11,"p":-0.79,"v":0.26},{"f":11,"p":-0.39,"v":0.25},{"f":11,"p":0,"v":0.23},{"f":11,"p":0.39,"v":0.21},{"f":11,"p":0.79,"v":0.19},{"f":11,"p":1.18,"v":0.18},{"f":11,"p":1.57,"v":0.16},{"f":11,"p":1.96,"v":0.16},{"f":11,"p":2.36,"v":0.15},{"f":11,"p":2.75,"v":0.15},
{"f":11.5,"p":-3.14,"v":0.17},{"f":11.5,"p":-2.75,"v":0.19},{"f":11.5,"p":-2.36,"v":0.20},{"f":11.5,"p":-1.96,"v":0.22},{"f":11.5,"p":-1.57,"v":0.23},{"f":11.5,"p":-1.18,"v":0.25},{"f":11.5,"p":-0.79,"v":0.26},{"f":11.5,"p":-0.39,"v":0.26},{"f":11.5,"p":0,"v":0.26},{"f":11.5,"p":0.39,"v":0.25},{"f":11.5,"p":0.79,"v":0.23},{"f":11.5,"p":1.18,"v":0.22},{"f":11.5,"p":1.57,"v":0.20},{"f":11.5,"p":1.96,"v":0.19},{"f":11.5,"p":2.36,"v":0.17},{"f":11.5,"p":2.75,"v":0.16},
{"f":12,"p":-3.14,"v":0.16},{"f":12,"p":-2.75,"v":0.16},{"f":12,"p":-2.36,"v":0.17},{"f":12,"p":-1.96,"v":0.18},{"f":12,"p":-1.57,"v":0.19},{"f":12,"p":-1.18,"v":0.21},{"f":12,"p":-0.79,"v":0.22},{"f":12,"p":-0.39,"v":0.24},{"f":12,"p":0,"v":0.25},{"f":12,"p":0.39,"v":0.26},{"f":12,"p":0.79,"v":0.26},{"f":12,"p":1.18,"v":0.25},{"f":12,"p":1.57,"v":0.24},{"f":12,"p":1.96,"v":0.22},{"f":12,"p":2.36,"v":0.21},{"f":12,"p":2.75,"v":0.19},
{"f":12.5,"p":-3.14,"v":0.17},{"f":12.5,"p":-2.75,"v":0.16},{"f":12.5,"p":-2.36,"v":0.16},{"f":12.5,"p":-1.96,"v":0.17},{"f":12.5,"p":-1.57,"v":0.17},{"f":12.5,"p":-1.18,"v":0.18},{"f":12.5,"p":-0.79,"v":0.19},{"f":12.5,"p":-0.39,"v":0.20},{"f":12.5,"p":0,"v":0.22},{"f":12.5,"p":0.39,"v":0.23},{"f":12.5,"p":0.79,"v":0.24},{"f":12.5,"p":1.18,"v":0.25},{"f":12.5,"p":1.57,"v":0.25},{"f":12.5,"p":1.96,"v":0.25},{"f":12.5,"p":2.36,"v":0.24},{"f":12.5,"p":2.75,"v":0.23},
{"f":13,"p":-3.14,"v":0.19},{"f":13,"p":-2.75,"v":0.18},{"f":13,"p":-2.36,"v":0.17},{"f":13,"p":-1.96,"v":0.17},{"f":13,"p":-1.57,"v":0.17},{"f":13,"p":-1.18,"v":0.17},{"f":13,"p":-0.79,"v":0.17},{"f":13,"p":-0.39,"v":0.17},{"f":13,"p":0,"v":0.18},{"f":13,"p":0.39,"v":0.19},{"f":13,"p":0.79,"v":0.21},{"f":13,"p":1.18,"v":0.22},{"f":13,"p":1.57,"v":0.23},{"f":13,"p":1.96,"v":0.24},{"f":13,"p":2.36,"v":0.25},{"f":13,"p":2.75,"v":0.25},
{"f":13.5,"p":-3.14,"v":0.22},{"f":13.5,"p":-2.75,"v":0.20},{"f":13.5,"p":-2.36,"v":0.19},{"f":13.5,"p":-1.96,"v":0.18},{"f":13.5,"p":-1.57,"v":0.18},{"f":13.5,"p":-1.18,"v":0.17},{"f":13.5,"p":-0.79,"v":0.17},{"f":13.5,"p":-0.39,"v":0.17},{"f":13.5,"p":0,"v":0.17},{"f":13.5,"p":0.39,"v":0.17},{"f":13.5,"p":0.79,"v":0.18},{"f":13.5,"p":1.18,"v":0.19},{"f":13.5,"p":1.57,"v":0.20},{"f":13.5,"p":1.96,"v":0.21},{"f":13.5,"p":2.36,"v":0.22},{"f":13.5,"p":2.75,"v":0.23},
{"f":14,"p":-3.14,"v":0.24},{"f":14,"p":-2.75,"v":0.23},{"f":14,"p":-2.36,"v":0.22},{"f":14,"p":-1.96,"v":0.21},{"f":14,"p":-1.57,"v":0.20},{"f":14,"p":-1.18,"v":0.19},{"f":14,"p":-0.79,"v":0.18},{"f":14,"p":-0.39,"v":0.18},{"f":14,"p":0,"v":0.17},{"f":14,"p":0.39,"v":0.17},{"f":14,"p":0.79,"v":0.17},{"f":14,"p":1.18,"v":0.17},{"f":14,"p":1.57,"v":0.18},{"f":14,"p":1.96,"v":0.19},{"f":14,"p":2.36,"v":0.19},{"f":14,"p":2.75,"v":0.20},
{"f":14.5,"p":-3.14,"v":0.23},{"f":14.5,"p":-2.75,"v":0.23},{"f":14.5,"p":-2.36,"v":0.23},{"f":14.5,"p":-1.96,"v":0.23},{"f":14.5,"p":-1.57,"v":0.22},{"f":14.5,"p":-1.18,"v":0.21},{"f":14.5,"p":-0.79,"v":0.20},{"f":14.5,"p":-0.39,"v":0.19},{"f":14.5,"p":0,"v":0.19},{"f":14.5,"p":0.39,"v":0.18},{"f":14.5,"p":0.79,"v":0.18},{"f":14.5,"p":1.18,"v":0.17},{"f":14.5,"p":1.57,"v":0.17},{"f":14.5,"p":1.96,"v":0.18},{"f":14.5,"p":2.36,"v":0.18},{"f":14.5,"p":2.75,"v":0.18},
{"f":15,"p":-3.14,"v":0.21},{"f":15,"p":-2.75,"v":0.22},{"f":15,"p":-2.36,"v":0.22},{"f":15,"p":-1.96,"v":0.23},{"f":15,"p":-1.57,"v":0.23},{"f":15,"p":-1.18,"v":0.23},{"f":15,"p":-0.79,"v":0.22},{"f":15,"p":-0.39,"v":0.22},{"f":15,"p":0,"v":0.21},{"f":15,"p":0.39,"v":0.20},{"f":15,"p":0.79,"v":0.19},{"f":15,"p":1.18,"v":0.18},{"f":15,"p":1.57,"v":0.18},{"f":15,"p":1.96,"v":0.18},{"f":15,"p":2.36,"v":0.18},{"f":15,"p":2.75,"v":0.18},
{"f":15.5,"p":-3.14,"v":0.19},{"f":15.5,"p":-2.75,"v":0.19},{"f":15.5,"p":-2.36,"v":0.20},{"f":15.5,"p":-1.96,"v":0.21},{"f":15.5,"p":-1.57,"v":0.22},{"f":15.5,"p":-1.18,"v":0.22},{"f":15.5,"p":-0.79,"v":0.23},{"f":15.5,"p":-0.39,"v":0.23},{"f":15.5,"p":0,"v":0.22},{"f":15.5,"p":0.39,"v":0.22},{"f":15.5,"p":0.79,"v":0.21},{"f":15.5,"p":1.18,"v":0.20},{"f":15.5,"p":1.57,"v":0.19},{"f":15.5,"p":1.96,"v":0.19},{"f":15.5,"p":2.36,"v":0.18},{"f":15.5,"p":2.75,"v":0.18}
]
},
"hconcat": [
{
"spacing": 4,
"resolve": {"scale": {"color": "independent"}, "legend": {"color": "independent"}},
"vconcat": [
{
"bounds": "flush",
"spacing": 4,
"resolve": {"scale": {"color": "independent"}, "legend": {"color": "independent"}},
"vconcat": [
{
"width": 385, "height": 4,
"view": {"stroke": null},
"title": {"text": "ψiτ = P(i, τ)", "font": "DejaVu Serif", "fontStyle": "italic", "fontSize": 21, "offset": 1},
"data": {"values": []},
"mark": "point"
},
{
"width": 385, "height": 185,
"data": {"name": "psi"},
"mark": {"type": "line", "strokeWidth": 1.3},
"encoding": {
"x": {"field": "t", "type": "quantitative", "scale": {"domain": [-15, 15], "nice": false, "zero": false}, "axis": {"values": [-10, 0, 10], "title": "Samples", "grid": true, "labelPadding": 21}},
"y": {"field": "p", "type": "quantitative", "scale": {"domain": [0, 0.4], "nice": false}, "axis": {"values": [0, 0.1, 0.2, 0.3, 0.4], "format": "~g", "title": null, "grid": true}},
"color": {"field": "s", "type": "nominal", "scale": {"domain": ["Source 1", "Source 2"], "range": ["#0000FF", "#FF0000"]},
"legend": {"title": null, "orient": "top-right", "offset": 13, "strokeColor": "black", "fillColor": "white", "padding": 7, "symbolType": "stroke", "symbolSize": 5929, "symbolStrokeWidth": 1.5, "symbolOffset": 8, "clipHeight": 22, "labelFontSize": 20, "labelOffset": 9, "rowPadding": 7}}
}
}
]
},
{
"width": 390, "height": 185,
"title": {"text": "ILD vᵢ ± ηᵢ", "font": "DejaVu Serif", "fontSize": 21, "offset": 10},
"data": {"name": "ild"},
"encoding": {"x": {"field": "f", "type": "quantitative", "scale": {"domain": [0, 8], "nice": false}, "axis": {"values": [0, 2, 4, 6, 8], "title": "Frequency (kHz)", "grid": true, "labelPadding": 15, "titlePadding": 6}}},
"layer": [
{"mark": {"type": "line", "color": "#0000FF", "strokeWidth": 1.4}, "encoding": {"y": {"field": "b", "type": "quantitative", "title": null, "scale": {"domain": [-30, 15], "nice": false}, "axis": {"values": [-30, -20, -10, 0, 10], "grid": true}}}},
{"mark": {"type": "square", "color": "#0000FF", "size": 4, "opacity": 1}, "encoding": {"y": {"field": "bu", "type": "quantitative", "title": null}}},
{"mark": {"type": "square", "color": "#0000FF", "size": 4, "opacity": 1}, "encoding": {"y": {"field": "bl", "type": "quantitative", "title": null}}},
{"mark": {"type": "line", "color": "#FF0000", "strokeWidth": 1.4}, "encoding": {"y": {"field": "r", "type": "quantitative", "title": null}}},
{"mark": {"type": "square", "color": "#FF0000", "size": 4, "opacity": 1}, "encoding": {"y": {"field": "ru", "type": "quantitative", "title": null}}},
{"mark": {"type": "square", "color": "#FF0000", "size": 4, "opacity": 1}, "encoding": {"y": {"field": "rl", "type": "quantitative", "title": null}}}
]
}
]
},
{
"spacing": 7,
"resolve": {"scale": {"color": "independent"}, "legend": {"color": "independent"}},
"vconcat": [
{
"width": 357, "height": 197,
"title": {"text": "IPD distribution – source 1", "fontSize": 21, "offset": 9},
"data": {"name": "s1"},
"mark": {"type": "rect", "clip": true},
"encoding": {
"x": {"field": "f", "type": "quantitative", "bin": {"binned": true, "step": 1.04}, "scale": {"domain": [0, 16], "nice": false, "zero": false}, "axis": {"values": [5, 10, 15], "format": "d", "title": null, "labelPadding": 14}},
"y": {"field": "p", "type": "quantitative", "bin": {"binned": true, "step": 0.33}, "scale": {"domain": [-3.1416, 3.1416], "nice": false, "zero": false}, "axis": {"values": [-2, 0, 2], "format": "d", "title": "IPD (rad)", "titlePadding": 16}},
"color": {"field": "v", "type": "quantitative", "scale": {"domain": [0.007, 0.562], "range": ["#00008F", "#0000FF", "#0080FF", "#00FFFF", "#80FF80", "#FFFF00", "#FF8000", "#FF0000", "#800000"], "interpolate": "rgb"},
"legend": {"type": "gradient", "title": "Prob", "orient": "right", "direction": "vertical", "titleOrient": "bottom", "titleAnchor": "start", "titlePadding": 16, "gradientLength": 197, "gradientThickness": 53, "gradientStrokeColor": "black", "gradientStrokeWidth": 1.5, "values": [0.1, 0.2, 0.3, 0.4, 0.5], "labelOffset": 8, "offset": 40, "padding": 0}}
}
},
{
"width": 357, "height": 197,
"title": {"text": "IPD distribution – source 2", "fontSize": 21, "offset": 9},
"data": {"name": "s2"},
"mark": {"type": "rect", "clip": true},
"encoding": {
"x": {"field": "f", "type": "quantitative", "bin": {"binned": true, "step": 0.53}, "scale": {"domain": [0, 16], "nice": false, "zero": false}, "axis": {"values": [5, 10, 15], "format": "d", "title": "Frequency (kHz)", "labelPadding": 13, "titlePadding": 11}},
"y": {"field": "p", "type": "quantitative", "bin": {"binned": true, "step": 0.41}, "scale": {"domain": [-3.1416, 3.1416], "nice": false, "zero": false}, "axis": {"values": [-2, 0, 2], "format": "d", "title": "IPD (rad)", "titlePadding": 16}},
"color": {"field": "v", "type": "quantitative", "scale": {"domain": [0.006, 0.428], "range": ["#00008F", "#0000FF", "#0080FF", "#00FFFF", "#80FF80", "#FFFF00", "#FF8000", "#FF0000", "#800000"], "interpolate": "rgb"},
"legend": {"type": "gradient", "title": "Prob", "orient": "right", "direction": "vertical", "titleOrient": "bottom", "titleAnchor": "start", "titlePadding": 16, "gradientLength": 197, "gradientThickness": 53, "gradientStrokeColor": "black", "gradientStrokeWidth": 1.5, "values": [0.1, 0.2, 0.3, 0.4], "labelOffset": 8, "offset": 40, "padding": 0}}
}
}
]
}
]
}
